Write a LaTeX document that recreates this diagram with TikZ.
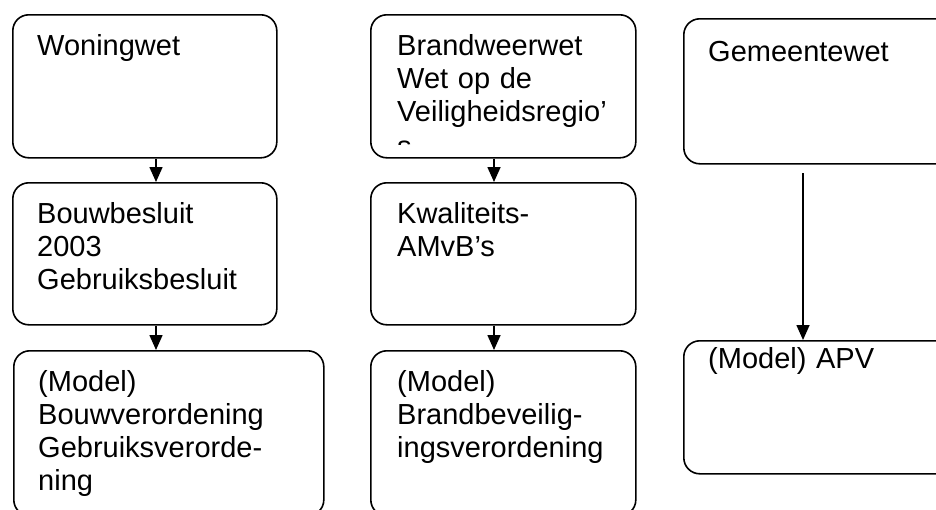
\documentclass[tikz,border=0pt]{standalone}
\usepackage{fontspec}
\setmainfont{Liberation Sans}
\usetikzlibrary{arrows.meta}
\tikzset{
  box/.style={draw=black, line width=1.6pt, rounded corners=16pt, anchor=north west, inner sep=0pt},
  txt/.style={anchor=base west, inner sep=0pt, align=left, text width=320pt,
              font=\fontsize{29}{33.3}\selectfont},
  arr/.style={line width=1.6pt, -{Triangle[width=13pt,length=15pt]}}
}
\begin{document}
\begin{tikzpicture}[x=1pt,y=1pt]
\clip (0,0) rectangle (936,-509);
% boxes
\node[box, minimum width=264pt, minimum height=143pt] (woning) at (12,-14) {};
\node[box, minimum width=264pt, minimum height=142pt] (bouw) at (12,-182) {};
\node[box, minimum width=310pt, minimum height=165pt] (modelb) at (13,-350) {};
\node[box, minimum width=265pt, minimum height=143pt] (brand) at (370,-14) {};
\node[box, minimum width=265pt, minimum height=142pt] (kwal) at (370,-182) {};
\node[box, minimum width=265pt, minimum height=165pt] (modelbr) at (370,-350) {};
\node[box, minimum width=290pt, minimum height=145pt] (gem) at (683,-18) {};
\node[box, minimum width=290pt, minimum height=133pt] (apv) at (683,-340) {};
% texts
\node[txt] (t1) at (37,-55) {Woningwet};
\node[txt] (t2) at (37,-223) {Bouwbesluit\\2003\\Gebruiksbesluit};
\node[txt] (t3) at (38,-391) {(Model)\\Bouwverordening\\Gebruiksverorde-\\ning};
\node[txt] (t4) at (397,-55) {Brandweerwet\\Wet op de\\Veiligheidsregio’};
\begin{scope}
\clip (380,-120) rectangle (620,-144);
\node[txt] (t4s) at (397,-156.5) {s};
\end{scope}
\node[txt] (t5) at (397,-223) {Kwaliteits-\\AMvB’s};
\node[txt] (t6) at (397,-391) {(Model)\\Brandbeveilig-\\ingsverordening};
\node[txt] (t7) at (708,-61) {Gemeentewet};
\node[txt] (t8) at (708,-368) {(Model) APV};
% connectors
\coordinate (c1) at (156,0);
\coordinate (c2) at (494,0);
\coordinate (g0) at (803,-173);
\draw[arr] (woning.south -| c1) -- (bouw.north -| c1);
\draw[arr] (bouw.south -| c1) -- (modelb.north -| c1);
\draw[arr] (brand.south -| c2) -- (kwal.north -| c2);
\draw[arr] (kwal.south -| c2) -- (modelbr.north -| c2);
\draw[arr] (g0) -- (apv.north -| g0);
\end{tikzpicture}
\end{document}
